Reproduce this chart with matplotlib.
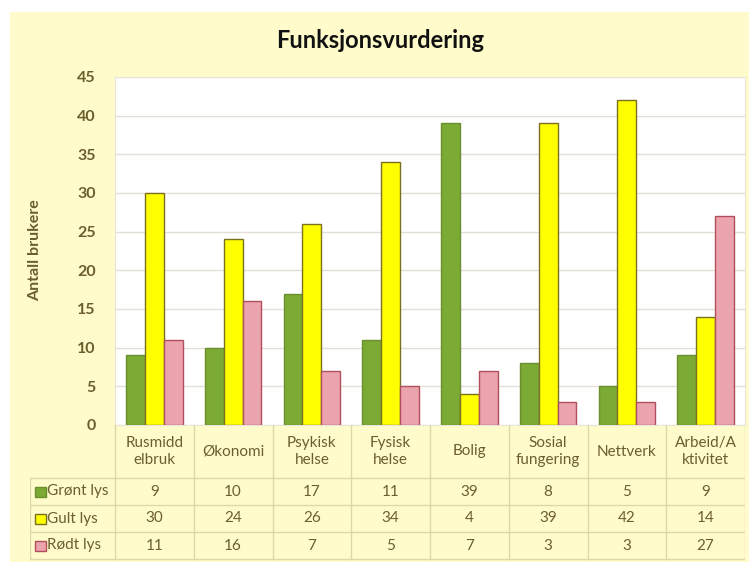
import matplotlib.pyplot as plt
from matplotlib.patches import Rectangle
import numpy as np

categories = ["Rusmidd\nelbruk", "Økonomi", "Psykisk\nhelse", "Fysisk\nhelse",
              "Bolig", "Sosial\nfungering", "Nettverk", "Arbeid/A\nktivitet"]
series_names = ["Grønt lys", "Gult lys", "Rødt lys"]
gront = [9, 10, 17, 11, 39, 8, 5, 9]
gult = [30, 24, 26, 34, 4, 39, 42, 14]
rodt = [11, 16, 7, 5, 7, 3, 3, 27]
yticks = [0, 5, 10, 15, 20, 25, 30, 35, 40, 45]

colors = ["#7BAA35", "#FFFF00", "#EBA3AE"]
edges = ["#6A8F2C", "#7A7020", "#B0505A"]
text_col = "#6B5F2C"
cream = "#FFFBCB"
grid_col = "#E2E0D6"
font = "Lato"

fig = plt.figure(figsize=(7.49, 5.62), dpi=100)
fig.patch.set_facecolor("white")
W, H = 749, 562
fig.add_artist(Rectangle((10 / W, 0), 1, (H - 12) / H, transform=fig.transFigure,
                         facecolor=cream, edgecolor="none", zorder=0))

fig.text(380 / W, 1 - 40 / H, "Funksjonsvurdering", ha="center", va="center",
         fontsize=17, fontweight="bold", family=font, color="#111111")

ax = fig.add_axes([115 / W, 1 - 425 / H, 630 / W, 348 / H])
ax.set_facecolor("white")
x = np.arange(len(categories))
bw = 0.24
for i, vals in enumerate([gront, gult, rodt]):
    ax.bar(x + (i - 1) * bw, vals, bw, color=colors[i], edgecolor=edges[i],
           linewidth=1.0, zorder=3)
ax.set_xlim(-0.5, len(categories) - 0.5)
ax.set_ylim(0, 45)
ax.set_yticks(yticks)
ax.set_yticklabels([str(t) for t in yticks], family=font, fontsize=11.5,
                   fontweight="bold", color=text_col)
ax.set_xticks([])
ax.tick_params(axis="y", length=0, pad=14)
ax.yaxis.grid(True, color=grid_col, linewidth=1, zorder=0)
for s in ax.spines.values():
    s.set_color("#E8E6DA")
fig.text(35 / W, 1 - 250 / H, "Antall brukere", rotation=90, ha="center",
         va="center", family=font, fontsize=11.5, fontweight="bold", color=text_col)

# data table below the plot
tax = fig.add_axes([30 / W, 0, 715 / W, 137 / H])
tax.set_xlim(-0.5 - 85 / 78.75, len(categories) - 0.5)
tax.set_ylim(137, 0)
tax.axis("off")
left = -0.5 - 85 / 78.75
header_h = 53
row_h = 27
line_col = "#DCD8A8"
# header
for j, cat in enumerate(categories):
    tax.text(j, header_h / 2, cat, ha="center", va="center", family=font,
             fontsize=11, color=text_col, linespacing=1.3)
# rows
for r, (name, vals) in enumerate(zip(series_names, [gront, gult, rodt])):
    yc = header_h + row_h * r + row_h / 2
    tax.add_patch(Rectangle((left + 0.06, yc - 5), 0.14, 10, facecolor=colors[r],
                            edgecolor=edges[r], linewidth=1))
    tax.text(left + 0.22, yc, name, ha="left", va="center", family=font,
             fontsize=11, color=text_col)
    for j, v in enumerate(vals):
        tax.text(j, yc, str(v), ha="center", va="center", family=font,
                 fontsize=11, color=text_col)
# grid lines
for k in range(4):
    yy = header_h + row_h * k
    tax.plot([left, len(categories) - 0.5], [yy, yy], color=line_col, lw=1)
for j in range(len(categories) + 1):
    tax.plot([j - 0.5, j - 0.5], [0, header_h + 3 * row_h], color=line_col, lw=1)
tax.plot([left, left], [header_h, header_h + 3 * row_h], color=line_col, lw=1)

fig.savefig("out.png", dpi=100)
